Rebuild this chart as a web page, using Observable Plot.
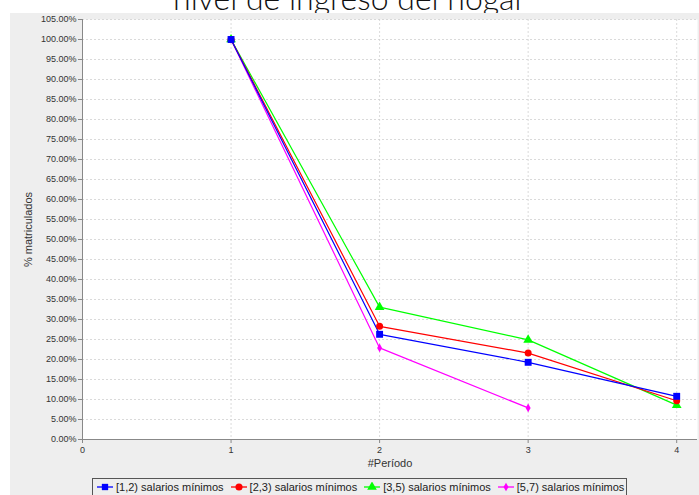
<!DOCTYPE html>
<html>
<head>
<meta charset="utf-8">
<script src="https://cdn.jsdelivr.net/npm/d3@7"></script>
<script src="https://cdn.jsdelivr.net/npm/@observablehq/plot@0.6"></script>
<style>
  html, body { margin: 0; padding: 0; background: #ffffff; width: 699px; height: 495px; overflow: hidden; }
  #title { position: absolute; left: 0; width: 699px; top: -18px; text-align: center; font-family: Lato, "Open Sans", sans-serif; font-weight: 300; font-size: 32px; line-height: 32px; color: #111; white-space: nowrap; }
  #panel { position: absolute; left: 10px; top: 13px; width: 689px; height: 482px; background: #eeeeee; overflow: hidden; }
  #legend { position: absolute; left: 82px; top: 465px; height: 16px; border: 1px solid #555; background: #eeeeee; display: flex; align-items: center; font-family: "Liberation Sans", Arial, sans-serif; font-size: 11px; color: #222; padding: 0 2px 0 3px; white-space: nowrap; }
  #legend .item { display: flex; align-items: center; margin-right: 6px; }
  #legend .item:last-child { margin-right: 0; }
  #legend svg { margin-right: 2px; }
</style>
</head>
<body>
<div id="title">nivel de ingreso del hogar</div>
<div id="panel"><div id="chart"></div><div id="legend"></div></div>
<script>
const periods = [1, 2, 3, 4];
const seriesNames = ["[1,2) salarios mínimos", "[2,3) salarios mínimos", "[3,5) salarios mínimos", "[5,7) salarios mínimos"];
const serie12 = [100, 26.3, 19.3, 10.8];
const serie23 = [100, 28.3, 21.6, 9.7];
const serie35 = [100, 33.1, 24.9, 8.6];
const serie57 = [100, 22.9, 7.9];
const colors = ["#0000ff", "#ff0000", "#00ff00", "#ff00ff"];
const symbols = ["square", "circle", "triangle", "diamond"];
const yTicks = d3.range(0, 105.01, 5);
const xTicks = [0, 1, 2, 3, 4];
const yLabel = "% matriculados";
const xLabel = "#Período";

const allSeries = [serie12, serie23, serie35, serie57];
const data = [];
allSeries.forEach((vals, si) => {
  vals.forEach((v, i) => data.push({serie: seriesNames[si], idx: si, periodo: periods[i], valor: v}));
});
// draw series in reverse so the first series is on top
const ordered = [3, 2, 1, 0];

const marks = [
  Plot.frame({fill: "white", stroke: "none"}),
  Plot.gridY(yTicks, {stroke: "#d0d0d0", strokeOpacity: 1, strokeDasharray: "2,2", strokeWidth: 0.8}),
  Plot.gridX(xTicks.slice(1), {stroke: "#d0d0d0", strokeOpacity: 1, strokeDasharray: "2,2", strokeWidth: 0.8}),
  Plot.axisY(yTicks, {tickFormat: d => d.toFixed(2) + "%", tickSize: 4, tickPadding: 2, fontSize: 9, stroke: "#888", color: "#333", label: null}),
  Plot.axisX(xTicks, {tickFormat: d => String(d), tickSize: 4, tickPadding: 3, fontSize: 9, stroke: "#888", color: "#333", label: null}),
  Plot.text([yLabel], {frameAnchor: "left", textAnchor: "middle", lineAnchor: "middle", rotate: -90, dx: -54, fontSize: 11, fill: "#333"}),
  Plot.text([xLabel], {frameAnchor: "bottom", textAnchor: "middle", lineAnchor: "middle", dy: 24, fontSize: 11, fill: "#333"}),
  Plot.ruleY([0], {stroke: "#888"}),
  Plot.ruleX([0], {stroke: "#888"})
];
ordered.forEach(si => {
  const d = data.filter(r => r.idx === si);
  marks.push(Plot.line(d, {x: "periodo", y: "valor", stroke: colors[si], strokeWidth: 1.2}));
});
ordered.forEach(si => {
  const d = data.filter(r => r.idx === si);
  const r = si === 0 ? 3.9 : si === 1 ? 3.5 : si === 2 ? 3.6 : 2.6;
  marks.push(Plot.dot(d, {x: "periodo", y: "valor", fill: colors[si], stroke: "none", symbol: () => symbols[si], r}));
});

const chart = Plot.plot({
  width: 689,
  height: 465,
  marginLeft: 72,
  marginRight: 2,
  marginTop: 6,
  marginBottom: 39,
  style: {background: "transparent", fontFamily: "'Liberation Sans', Arial, sans-serif", fontSize: "11px", color: "#333"},
  x: {domain: [0, 4.14]},
  y: {domain: [0, 105]},
  symbol: {type: "identity"},
  marks
});
document.getElementById("chart").appendChild(chart);

const legend = document.getElementById("legend");
seriesNames.forEach((name, i) => {
  const item = document.createElement("div");
  item.className = "item";
  const svg = d3.create("svg").attr("width", 18).attr("height", 10);
  svg.append("line").attr("x1", 1).attr("x2", 17).attr("y1", 5).attr("y2", 5).attr("stroke", colors[i]).attr("stroke-width", 1.3);
  svg.append("path").attr("transform", "translate(9,5)").attr("fill", colors[i])
    .attr("d", d3.symbol().type([d3.symbolSquare, d3.symbolCircle, d3.symbolTriangle, d3.symbolDiamond][i]).size(i === 3 ? 22 : 40)());
  item.appendChild(svg.node());
  const span = document.createElement("span");
  span.textContent = name;
  item.appendChild(span);
  legend.appendChild(item);
});
</script>
</body>
</html>
